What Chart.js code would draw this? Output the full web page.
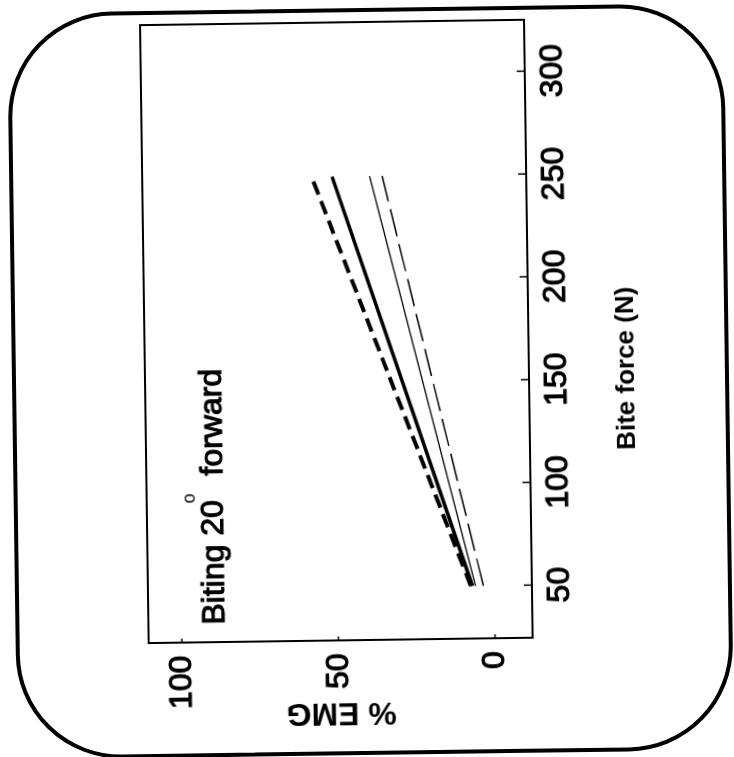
<!DOCTYPE html>
<html>
<head>
<meta charset="utf-8">
<script src="https://cdn.jsdelivr.net/npm/chart.js@4.4.1/dist/chart.umd.min.js"></script>
<style>
html, body { margin: 0; padding: 0; background: #fff; }
#page { position: relative; width: 734px; height: 757px; transform: rotate(-0.8deg); }
#frame { position: absolute; left: 12px; top: 8px; width: 717px; height: 747px; box-sizing: border-box; border: 4px solid #000; border-radius: 105px; }
#plot { position: absolute; left: 0; top: 0; width: 757px; height: 734px; transform-origin: 0 0; transform: translate(0px, 757px) rotate(-90deg); }
</style>
</head>
<body>
<div id="page">
  <div id="frame"></div>
  <div id="plot"><canvas id="myChart" width="757" height="734"></canvas></div>
</div>
<script>
// Values
var biteForce = [50, 250];
var thickDashed = [7.5, 56.5];
var thickSolid = [7, 50];
var thinSolid = [6, 38];
var thinDashed = [3.5, 34];
var xTicks = [50, 100, 150, 200, 250, 300];
var yTicks = [0, 50, 100];

var family = '"Liberation Sans", Arial, sans-serif';

function makeSeries(values, width, dash) {
    return {
        data: biteForce.map(function (f, i) { return { x: f, y: values[i] }; }),
        borderColor: '#000',
        borderWidth: width,
        borderDash: dash,
        borderCapStyle: 'butt',
        pointRadius: 0,
        fill: false,
        tension: 0
    };
}

// Box, inward ticks, x title and the note inside the plot
var decorations = {
    id: 'decorations',
    afterDraw: function (chart) {
        var ctx = chart.ctx, a = chart.chartArea;
        var xs = chart.scales.x, ys = chart.scales.y;
        ctx.save();
        ctx.strokeStyle = '#000';
        ctx.lineWidth = 2;
        ctx.strokeRect(a.left, a.top, a.right - a.left, a.bottom - a.top);

        ctx.lineWidth = 1.5;
        ctx.beginPath();
        xTicks.forEach(function (v) {
            var p = xs.getPixelForValue(v);
            ctx.moveTo(p, a.bottom);
            ctx.lineTo(p, a.bottom - 8);
        });
        yTicks.forEach(function (v) {
            var p = ys.getPixelForValue(v);
            ctx.moveTo(a.left, p);
            ctx.lineTo(a.left + 4, p);
        });
        ctx.stroke();

        ctx.fillStyle = '#000';
        ctx.font = 'bold 26px ' + family;
        ctx.textAlign = 'center';
        ctx.textBaseline = 'middle';
        ctx.fillText('Bite force (N)', a.left + 268, a.bottom + 98);

        // note, thickened a little like the scanned print
        ctx.textAlign = 'left';
        ctx.textBaseline = 'alphabetic';
        ctx.lineWidth = 1.1;
        ctx.font = '32px ' + family;
        var x0 = a.left + 17.5, base = a.top + 76;
        ctx.fillText('Biting 20', x0, base);
        ctx.strokeText('Biting 20', x0, base);
        var w = ctx.measureText('Biting 20').width;
        ctx.fillText('forward', x0 + w + 24.5, base);
        ctx.strokeText('forward', x0 + w + 24.5, base);
        ctx.font = '18px ' + family;
        ctx.fillText('o', x0 + w - 3, base - 28);
        ctx.restore();
    }
};

var tickOpts = {
    color: '#000',
    font: { family: family, size: 32 },
    textStrokeColor: '#000',
    textStrokeWidth: 1.1
};

var ctx = document.getElementById('myChart').getContext('2d');
var myChart = new Chart(ctx, {
    type: 'line',
    data: {
        datasets: [
            makeSeries(thickDashed, 4, [14, 7]),
            makeSeries(thickSolid, 3.5, []),
            makeSeries(thinSolid, 1.5, []),
            makeSeries(thinDashed, 1.5, [28, 8])
        ]
    },
    options: {
        responsive: false,
        animation: false,
        layout: { padding: { top: 145, right: 22, left: 0, bottom: 0 } },
        plugins: { legend: { display: false }, tooltip: { enabled: false } },
        scales: {
            x: {
                type: 'linear',
                min: 24.4,
                max: 325,
                grid: { display: false },
                border: { display: false },
                afterBuildTicks: function (s) { s.ticks = xTicks.map(function (v) { return { value: v }; }); },
                afterFit: function (s) { s.height = 205; },
                ticks: Object.assign({ padding: 1, maxRotation: 0, autoSkip: false }, tickOpts)
            },
            y: {
                type: 'linear',
                min: -12,
                max: 110.6,
                grid: { display: false },
                border: { display: false },
                afterBuildTicks: function (s) { s.ticks = yTicks.map(function (v) { return { value: v }; }); },
                afterFit: function (s) { s.width = 117; },
                ticks: Object.assign({ padding: 5 }, tickOpts),
                title: {
                    display: true,
                    text: '% EMG',
                    color: '#000',
                    font: { family: family, size: 32, weight: 'bold' },
                    padding: { top: 25.6, bottom: 0 }
                }
            }
        }
    },
    plugins: [decorations]
});
</script>
</body>
</html>
